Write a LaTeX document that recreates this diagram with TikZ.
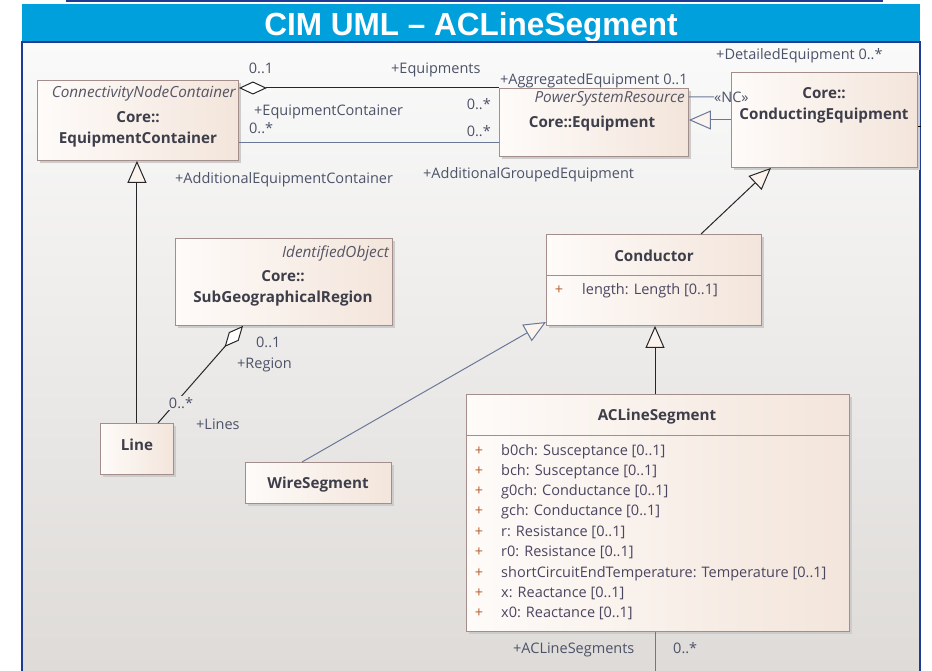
\documentclass[tikz,border=0pt]{standalone}
\usepackage{fontspec}
\setmainfont{Open Sans}
\newfontfamily\titlefont{Liberation Sans}
\usetikzlibrary{arrows.meta,shadows,calc}

\definecolor{framec}{HTML}{1F3A93}
\definecolor{bandc}{HTML}{00A0DC}
\definecolor{bgtop}{HTML}{FAFAFA}
\definecolor{bgbot}{HTML}{DEDBD8}
\definecolor{bgmid}{HTML}{EBE9E7}
\definecolor{boxline}{HTML}{A38E8B}
\definecolor{boxl}{HTML}{FEFBF9}
\definecolor{boxr}{HTML}{F3E5DB}
\definecolor{namec}{HTML}{3E3E4A}
\definecolor{labc}{HTML}{4C5268}
\definecolor{italc}{HTML}{555566}
\definecolor{assocc}{HTML}{6A7898}
\definecolor{plusc}{HTML}{B4602E}
\definecolor{attrc}{HTML}{4A4560}
\definecolor{trifill}{HTML}{FBF3EE}

\tikzset{
  umlbox/.style={draw=boxline, line width=0.9pt, left color=boxl, right color=boxr,
    inner sep=0pt, anchor=north west,
    drop shadow={shadow xshift=3pt, shadow yshift=-3pt, fill=black!20, opacity=1}},
  txt/.style={inner sep=0pt, yshift=-2.5pt},
  nm/.style={txt, font=\bfseries\fontsize{15.2}{17}\selectfont, text=namec},
  stereo/.style={txt, font=\itshape\fontsize{15.3}{17}\selectfont, text=italc},
  lab/.style={txt, font=\fontsize{14.5}{16}\selectfont, text=labc},
  attr/.style={txt, font=\fontsize{14.5}{16}\selectfont, text=attrc, anchor=mid west},
  plus/.style={txt, font=\fontsize{14.5}{16}\selectfont, text=plusc, anchor=mid},
  gen/.style={-{Triangle[length=22pt,width=19pt,fill=trifill,line width=1pt]}, line width=1pt, draw=black!85},
  agg/.style={{Diamond[length=28pt,width=13pt,fill=white,line width=1pt]}-, line width=1pt, draw=black!85},
  assoc/.style={line width=1pt, draw=assocc},
}

\begin{document}
\begin{tikzpicture}[x=1pt,y=-1pt]
\useasboundingbox (0,0) rectangle (932,671);

% page frame, title band and heading
\draw[framec, line width=2pt] (66,1) -- (883,1);
\shade[top color=bgtop, bottom color=bgbot] (22,42) rectangle (920,671);
\fill[bandc] (22,4.5) rectangle (920,42);
\node[text=white, inner sep=0pt, anchor=base, font=\titlefont\bfseries\fontsize{32}{36}\selectfont] (title) at (471,36)
  {\scalebox{0.985}[1]{CIM UML – ACLineSegment}};
\draw[framec, line width=1.8pt] (22,671) -- (22,42) -- (920,42) -- (920,671);

% classes
\node[umlbox, minimum width=201pt, minimum height=80pt] (eqc) at (37,80) {};
\node[stereo, anchor=mid east] (eqcst) at (236,92) {ConnectivityNodeContainer};
\node[nm, anchor=mid] (eqcn1) at (138,117) {Core::};
\node[nm, anchor=mid] (eqcn2) at (138,138) {EquipmentContainer};

\node[umlbox, minimum width=189pt, minimum height=68pt] (eq) at (499,88) {};
\node[stereo, anchor=mid east] (eqst) at (685,97) {PowerSystemResource};
\node[nm, anchor=mid] (eqn) at (592,122) {Core::Equipment};

\node[umlbox, minimum width=186pt, minimum height=95pt] (ceq) at (731,72) {};
\node[nm, anchor=mid] (ceqn1) at (824,93) {Core::};
\node[nm, anchor=mid] (ceqn2) at (824,114) {ConductingEquipment};

\node[umlbox, minimum width=217pt, minimum height=87pt] (sgr) at (175,238) {};
\node[stereo, anchor=mid east] (sgrst) at (389,252) {IdentifiedObject};
\node[nm, anchor=mid] (sgrn1) at (283,276) {Core::};
\node[nm, anchor=mid] (sgrn2) at (283,297) {SubGeographicalRegion};

\node[umlbox, minimum width=215pt, minimum height=91pt] (cond) at (546,234) {};
\draw[boxline, line width=0.9pt] (cond.west |- 0,275) -- (cond.east |- 0,275);
\node[nm, anchor=mid] (condn) at (654,256) {Conductor};
\node[plus] (condp) at (559,289) {+};
\node[attr] (conda) at (582,289) {length: Length [0..1]};

\node[umlbox, minimum width=73pt, minimum height=51pt] (line) at (100,423) {};
\node[nm, anchor=mid] (linen) at (137,445) {Line};

\node[umlbox, minimum width=146pt, minimum height=41pt] (ws) at (245,462) {};
\node[nm, anchor=mid] (wsn) at (318,483) {WireSegment};

\node[umlbox, minimum width=383pt, minimum height=237pt] (acl) at (466,394) {};
\draw[boxline, line width=0.9pt] (acl.west |- 0,435) -- (acl.east |- 0,435);
\node[nm, anchor=mid] (acln) at (657,415) {ACLineSegment};
\foreach \y/\t [count=\i] in {
  450/{b0ch: Susceptance [0..1]},
  470/{bch: Susceptance [0..1]},
  490/{g0ch: Conductance [0..1]},
  510/{gch: Conductance [0..1]},
  531/{r: Resistance [0..1]},
  551/{r0: Resistance [0..1]},
  572/{shortCircuitEndTemperature: Temperature [0..1]},
  592/{x: Reactance [0..1]},
  612/{x0: Reactance [0..1]}} {
  \node[plus] (aclp\i) at (479,\y) {+};
  \node[attr] (acla\i) at (501,\y) {\t};
}

% associations between EquipmentContainer and Equipment
\draw[agg] (eqc.east |- eq.north) -- (eq.north west);
\draw[assoc] (eqc.east |- 0,143) -- (eq.west |- 0,143);
\node[lab, anchor=mid] (l01a) at (261,68) {0..1};
\node[lab, anchor=mid west] (lequip) at (391,68) {+Equipments};
\node[lab, anchor=mid west] (lecont) at (254,110) {+EquipmentContainer};
\node[lab, anchor=mid east] (lmany1) at (491,104) {0..*};
\node[lab, anchor=mid west] (lmany2) at (249,128) {0..*};
\node[lab, anchor=mid east] (lmany3) at (491,131) {0..*};
\node[lab, anchor=mid west] (laddc) at (175,178) {+AdditionalEquipmentContainer};
\node[lab, anchor=mid west] (laddg) at (423,173) {+AdditionalGroupedEquipment};

% Equipment self association and ConductingEquipment
\node[lab, anchor=mid west] (laggr) at (500,79) {+AggregatedEquipment 0..1};
\node[lab, anchor=mid west] (ldet) at (716,54) {+DetailedEquipment 0..*};
\node[lab, anchor=mid west] (lnc) at (714,97) {«NC»};
\draw[assoc] (eq.east |- 0,97) -- (lnc.west);
\draw[line width=1pt] (ceq.east |- 0,127) -- ++(3,0) coordinate (ceqout);

% generalizations
\draw[gen, draw=assocc] (ceq.west |- 0,120) -- (eq.east |- 0,120);
\draw[gen] (line.north) -- (line.north |- eqc.south);
\draw[gen] (cond.north -| 701,0) -- (ceq.south -| 771,0);
\draw[gen, draw=assocc] (ws.north -| 302,0) -- (cond.west |- 0,322);
\draw[gen] (acl.north -| 655,0) -- (cond.south -| 655,0);

% Line to SubGeographicalRegion aggregation
\draw[agg] (sgr.south -| 243,0) -- (line.north -| 158,0);
\node[lab, anchor=mid, fill=bgmid, inner sep=1.5pt] (lmany4) at (181,403) {0..*};
\node[lab, anchor=mid west] (lreg1) at (256,342) {0..1};
\node[lab, anchor=mid west] (lreg2) at (237,363) {+Region};
\node[lab, anchor=mid west] (llines) at (196,424) {+Lines};

% association leaving ACLineSegment downwards
\coordinate (aclout) at (655,671);
\draw[assoc] (acl.south -| 655,0) -- (aclout);
\node[lab, anchor=mid west] (laclseg) at (513,648) {+ACLineSegments};
\node[lab, anchor=mid west] (lmany5) at (673,648) {0..*};
\end{tikzpicture}
\end{document}
